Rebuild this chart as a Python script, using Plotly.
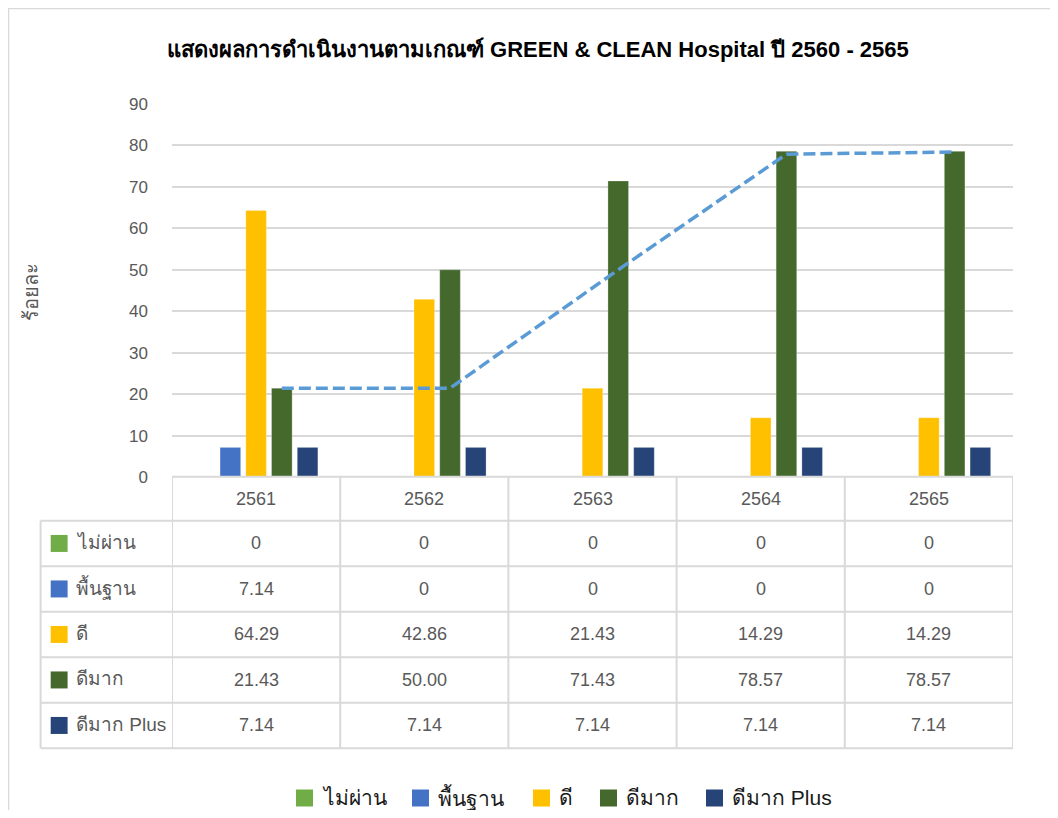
import plotly.graph_objects as go

# ---------------- data ----------------
years = ["2561", "2562", "2563", "2564", "2565"]
series_names = ["ไม่ผ่าน", "พื้นฐาน", "ดี", "ดีมาก", "ดีมาก Plus"]
fail_vals = [0, 0, 0, 0, 0]
basic_vals = [7.14, 0, 0, 0, 0]
good_vals = [64.29, 42.86, 21.43, 14.29, 14.29]
verygood_vals = [21.43, 50.00, 71.43, 78.57, 78.57]
plus_vals = [7.14, 7.14, 7.14, 7.14, 7.14]
trend_vals = [21.43, 21.43, 50.0, 77.9, 78.4]
y_ticks = [0, 10, 20, 30, 40, 50, 60, 70, 80, 90]

series_vals = [fail_vals, basic_vals, good_vals, verygood_vals, plus_vals]
series_colors = ["#70AD47", "#4472C4", "#FFC000", "#45692D", "#264478"]
trend_color = "#5B9BD5"

title_text = "แสดงผลการดำเนินงานตามเกณฑ์ GREEN & CLEAN Hospital ปี 2560 - 2565"
y_title = "ร้อยละ"

# ---------------- geometry (page pixels) ----------------
OFF = 8
W, H = 1042, 802
ML, MR, MT, MB = 164, 37, 96, 333
PW = W - ML - MR
PH = H - MT - MB
FONT = "Liberation Sans, Arial, Noto Sans, sans-serif"
GRID = "#D9D9D9"
TXT = "#595959"


def px(xpage):
    return (xpage - OFF - ML) / PW


def py(ypage):
    return (H - MB - (ypage - OFF)) / PH


BARGAP = 0.235
GROUPGAP = 0.2
n_series = len(series_names)
slot = (1 - BARGAP) / n_series
vg_index = series_names.index("ดีมาก")
vg_offset = -(1 - BARGAP) / 2 + (vg_index + 0.5) * slot

x_pos = list(range(len(years)))

fig = go.Figure()
for name, vals, col in zip(series_names, series_vals, series_colors):
    fig.add_trace(go.Bar(
        x=x_pos, y=vals, name=name, marker_color=col,
        marker_line=dict(color="rgba(255,255,255,0.5)", width=0.5),
        showlegend=False,
    ))

fig.add_trace(go.Scatter(
    x=[i + vg_offset for i in x_pos], y=trend_vals, mode="lines",
    line=dict(color=trend_color, width=3.5, dash="12px,5px"),
    showlegend=False, hoverinfo="skip",
))

shapes = []
annotations = []

# chart border (top & left visible)
shapes.append(dict(type="line", xref="paper", yref="paper",
                   x0=px(8), x1=px(1060), y0=py(8.5), y1=py(8.5),
                   line=dict(color=GRID, width=1.5)))
shapes.append(dict(type="line", xref="paper", yref="paper",
                   x0=px(8.5), x1=px(8.5), y0=py(8), y1=py(820),
                   line=dict(color=GRID, width=1.5)))

# table geometry
tbl_left = 40.6
header_top = 476.7
header_bot = 520.7
row_h = 45.5
row_tops = [header_bot + i * row_h for i in range(n_series + 1)]
tbl_bot = row_tops[-1]
tbl_right_paper = 1.0

# vertical lines
for i in range(len(years) + 1):
    shapes.append(dict(type="line", xref="x", yref="paper",
                       x0=i - 0.5, x1=i - 0.5, y0=py(header_top), y1=py(tbl_bot),
                       line=dict(color=GRID, width=2)))
shapes.append(dict(type="line", xref="paper", yref="paper",
                   x0=px(tbl_left), x1=px(tbl_left), y0=py(header_bot), y1=py(tbl_bot),
                   line=dict(color=GRID, width=2)))
# horizontal lines
shapes.append(dict(type="line", xref="x", yref="paper",
                   x0=-0.5, x1=len(years) - 0.5, y0=py(header_top), y1=py(header_top),
                   line=dict(color=GRID, width=2)))
for yt in row_tops:
    shapes.append(dict(type="line", xref="paper", yref="paper",
                       x0=px(tbl_left), x1=tbl_right_paper, y0=py(yt), y1=py(yt),
                       line=dict(color=GRID, width=2)))

# header labels
for i, yr in enumerate(years):
    annotations.append(dict(x=i, y=py((header_top + header_bot) / 2), xref="x", yref="paper",
                            text=yr, showarrow=False, xanchor="center", yanchor="middle",
                            font=dict(family=FONT, size=18, color=TXT)))


def fmt(name, v):
    if v == 0:
        return "0"
    return f"{v:.2f}"


# rows
for r, (name, vals, col) in enumerate(zip(series_names, series_vals, series_colors)):
    yc = (row_tops[r] + row_tops[r + 1]) / 2
    shapes.append(dict(type="rect", xref="paper", yref="paper",
                       x0=px(50.7), x1=px(67.6), y0=py(yc - 8.5), y1=py(yc + 8.5),
                       fillcolor=col, line=dict(width=0)))
    annotations.append(dict(x=px(74), y=py(yc - 1), xref="paper", yref="paper",
                            text=name, showarrow=False, xanchor="left", yanchor="middle",
                            font=dict(family=FONT, size=19, color=TXT)))
    for i, v in enumerate(vals):
        annotations.append(dict(x=i, y=py(yc), xref="x", yref="paper",
                                text=fmt(name, v), showarrow=False, xanchor="center",
                                yanchor="middle",
                                font=dict(family=FONT, size=18, color=TXT)))

# legend (manual)
leg_sq = [296, 412, 533, 600, 706]
leg_y = 798
for name, col, xs in zip(series_names, series_colors, leg_sq):
    shapes.append(dict(type="rect", xref="paper", yref="paper",
                       x0=px(xs), x1=px(xs + 17), y0=py(leg_y - 8.5), y1=py(leg_y + 8.5),
                       fillcolor=col, line=dict(width=0)))
    annotations.append(dict(x=px(xs + 24), y=py(leg_y - 1), xref="paper", yref="paper",
                            text=name, showarrow=False, xanchor="left", yanchor="middle",
                            font=dict(family=FONT, size=21, color="#1a1a1a")))

# title
annotations.append(dict(x=px(538), y=py(50), xref="paper", yref="paper",
                        text="<b>" + title_text + "</b>", showarrow=False,
                        xanchor="center", yanchor="middle",
                        font=dict(family=FONT, size=22, color="#000000")))
# y title
annotations.append(dict(x=px(31), y=py(292), xref="paper", yref="paper",
                        text=y_title, showarrow=False, textangle=-90,
                        xanchor="center", yanchor="middle",
                        font=dict(family=FONT, size=20, color=TXT)))

fig.update_layout(
    width=W, height=H,
    margin=dict(l=ML, r=MR, t=MT, b=MB, autoexpand=False),
    paper_bgcolor="white", plot_bgcolor="white",
    barmode="group", bargap=BARGAP, bargroupgap=GROUPGAP,
    shapes=shapes, annotations=annotations,
    font=dict(family=FONT, color=TXT),
    xaxis=dict(range=[-0.5, len(years) - 0.5], showticklabels=False, showgrid=False,
               zeroline=False, showline=False, fixedrange=True),
    yaxis=dict(range=[0, 90], tickvals=y_ticks, showgrid=True, gridcolor=GRID, gridwidth=1.5,
               zeroline=False, showline=False, ticks="", ticklabelstandoff=23,
               tickfont=dict(family=FONT, size=17, color=TXT)),
)

fig.write_html("out.html")
